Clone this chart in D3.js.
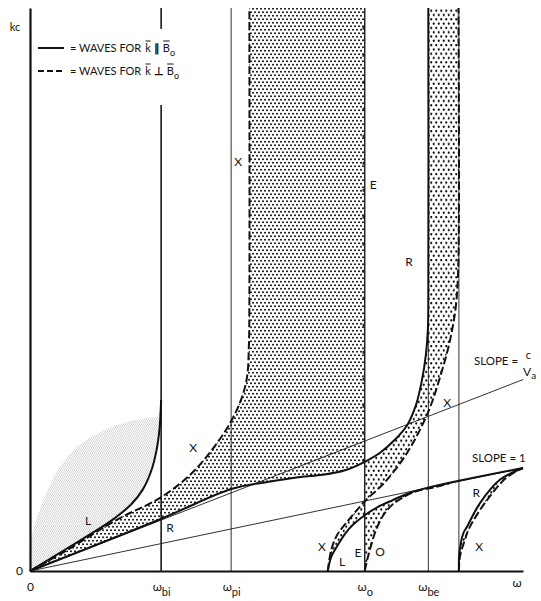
<!DOCTYPE html>
<html>
<head>
<meta charset="utf-8">
<script src="https://cdn.jsdelivr.net/npm/d3@7"></script>
<style>
  body { margin: 0; background: #fff; }
  svg { display: block; }
  text { font-family: Lato, "Noto Sans", sans-serif; fill: #141414; }
</style>
</head>
<body>
<svg id="chart" width="541" height="601"></svg>
<script>
// Dispersion sketch: kc against ω for a cold magnetised plasma (arbitrary units 0–100 on both axes)

// characteristic frequencies
const wBi = 26.6;   // ion cyclotron
const wPi = 40.8;   // ion plasma
const wLH = 44.5;   // lower hybrid asymptote of the X branch
const wL  = 60.4;   // L cutoff
const wO  = 67.9;   // plasma (O) cutoff
const wBe = 80.8;   // electron cyclotron
const wR  = 87.0;   // R cutoff

// axis ticks
const tickValues = [0, wBi, wPi, wO, wBe];
const tickNames  = ["0", "ω", "ω", "ω", "ω"];
const tickSubs   = ["", "bi", "pi", "o", "be"];

// reference lines kc = ω·slope
const lightLine  = [[0, 0], [100, 18.3]];   // slope = 1
const alfvenLine = [[0, 0], [100, 34.0]];   // slope = c / Va

// k ∥ B0 branches (solid)
const ionCyclotronL = [[0,0],[7.5,4.0],[14.2,7.6],[17.2,9.4],[20.5,11.8],[22.9,14.5],[24.6,17.8],[25.7,21.6],[26.3,25.5],[26.6,30.4]];
const whistlerR = [[0,0],[26.4,9.2],[41.0,14.6],[48.1,15.8],[54.8,16.7],[59.4,17.1],[63.9,17.9],[67.9,19.4],[71.0,21.0],[74.0,23.3],[76.5,25.9],[78.3,29.5],[79.5,33.9],[80.3,38.4],[80.7,42.8],[80.8,48.1],[80.8,100]];
const upperL = [[60.4,0],[61.1,2.5],[62.3,4.4],[63.9,6.6],[65.5,8.2],[67.9,9.9],[70.6,11.4],[73.6,12.6],[77.1,13.9],[81.1,14.9],[100,18.3]];
const upperR = [[87.0,0],[87.1,3.2],[87.9,6.7],[88.6,7.8],[91.3,12.1],[95.3,16.2],[100,18.3]];

// k ⊥ B0 branches (dashed)
const lowerX = [[0,0],[7.5,3.7],[17.6,9.1],[26.4,13.0],[32.5,17.1],[36.9,21.5],[40.6,26.3],[42.8,30.4],[44.0,34.3],[44.4,40.1],[44.5,48.1],[44.5,100]];
const middleX = [[60.4,0],[61.1,3.7],[62.3,6.4],[64.3,8.7],[66.9,11.4],[67.9,12.4],[72.0,15.8],[76.5,21.0],[80.7,28.1],[83.2,34.5],[85.2,41.0],[86.4,47.2],[86.9,55.2],[86.9,100]];
const ordinaryO = [[67.9,0],[68.4,2.0],[69.2,4.6],[70.2,7.3],[71.6,9.8],[73.4,11.7],[75.7,13.1],[78.5,14.2],[82.2,14.9],[85.0,15.55]];
const upperX = [[87.0,0],[87.2,2.5],[88.2,5.5],[89.2,7.8],[92.7,12.6],[96.8,16.7],[100,18.3]];

// outline of the faint region above the L branch
const faintEdge = [[0,0],[0,4.6],[1.6,9.9],[4.1,15.3],[7.1,19.7],[11.2,23.1],[16.2,25.4],[21.3,26.8],[26.0,27.4]];

// branch labels: text, ω, kc
const branchLabels = [
  ["X", 42.2, 72.8], ["E", 69.6, 68.6], ["R", 76.9, 54.9],
  ["X", 33.1, 22.0], ["L", 11.8, 9.0],  ["R", 28.4, 7.8],
  ["X", 84.6, 30.0], ["R", 90.5, 13.9], ["X", 91.1, 4.3],
  ["X", 59.2, 4.3],  ["L", 63.3, 1.6],  ["E", 66.5, 3.2], ["O", 71.0, 3.4]
];

const svg = d3.select("#chart");
const x = d3.scaleLinear().domain([0, 100]).range([30, 523]);
const y = d3.scaleLinear().domain([0, 100]).range([571, 8]);
const curve = d3.line().x(d => x(d[0])).y(d => y(d[1])).curve(d3.curveCatmullRom.alpha(0.5));
const straight = d3.line().x(d => x(d[0])).y(d => y(d[1]));

const upTo = (pts, w) => pts.filter(p => p[0] <= w + 1e-9);
const from = (pts, w) => pts.filter(p => p[0] >= w - 1e-9);
const rev = pts => pts.slice().reverse();

// closed outline built from curve pieces (arrays of points) and corner points
function region(parts) {
  let d = "";
  parts.forEach(p => {
    if (typeof p[0] === "number") {
      d += (d ? "L" : "M") + x(p[0]) + "," + y(p[1]);
    } else {
      const s = curve(p);
      d += d ? s.replace(/^M/, "L") : s;
    }
  });
  return d + "Z";
}

// stipple patterns
const defs = svg.append("defs");
function dotPattern(id, w, h, r, color) {
  const p = defs.append("pattern").attr("id", id)
    .attr("patternUnits", "userSpaceOnUse").attr("width", w).attr("height", h);
  p.append("circle").attr("cx", w / 4).attr("cy", h / 4).attr("r", r).attr("fill", color);
  p.append("circle").attr("cx", w * 3 / 4).attr("cy", h * 3 / 4).attr("r", r).attr("fill", color);
}
dotPattern("dotsFine", 4, 7, 0.95, "#000");
dotPattern("dotsCoarse", 5, 8.6, 1.1, "#000");
dotPattern("grain", 2, 3.4, 0.5, "#8e8e8e");

const fills = svg.append("g");
fills.append("path").attr("d", region([faintEdge, rev(ionCyclotronL)])).attr("fill", "url(#grain)");
fills.append("path").attr("d", region([lowerX, [wO, 100], rev(upTo(whistlerR, wO))])).attr("fill", "url(#dotsFine)");
fills.append("path").attr("d", region([from(whistlerR, wO), rev(from(middleX, wO))])).attr("fill", "url(#dotsCoarse)");
fills.append("path").attr("d", region([upTo(middleX, wO), rev(upTo(upperL, wO))])).attr("fill", "url(#dotsCoarse)");
fills.append("path").attr("d", region([upTo(from(upperL, wO), 85), rev(ordinaryO)])).attr("fill", "url(#dotsCoarse)");
fills.append("path").attr("d", region([upperR, rev(upperX)])).attr("fill", "url(#dotsCoarse)");

// vertical guides at the characteristic frequencies
const guides = svg.append("g").attr("stroke", "#1a1a1a").attr("fill", "none");
guides.append("path").attr("d", straight([[wBi, 0], [wBi, 100]])).attr("stroke-width", 1.6);
guides.append("path").attr("d", straight([[wPi, 0], [wPi, 100]])).attr("stroke-width", 0.9);
guides.append("path").attr("d", straight([[wO, 0], [wO, 100]])).attr("stroke-width", 1.4);
guides.append("path").attr("d", straight([[wBe, 0], [wBe, 100]])).attr("stroke-width", 0.9);
guides.append("path").attr("d", straight([[wR, 0], [wR, 100]])).attr("stroke-width", 0.9);
// E branch running up the plasma cutoff
guides.append("path").attr("d", straight([[wO, 19.4], [wO, 100]]))
  .attr("transform", "translate(-1.5,0)").attr("stroke-width", 1.4).attr("stroke-dasharray", "3,24");

// slope reference lines
svg.append("path").attr("d", straight(lightLine)).attr("stroke", "#1a1a1a").attr("stroke-width", 0.9).attr("fill", "none");
svg.append("path").attr("d", straight(alfvenLine)).attr("stroke", "#1a1a1a").attr("stroke-width", 0.9).attr("fill", "none");

// branches
const solid = svg.append("g").attr("fill", "none").attr("stroke", "#111").attr("stroke-width", 2);
[ionCyclotronL, whistlerR, upperL, upperR].forEach(b => solid.append("path").attr("d", curve(b)));
const dashed = svg.append("g").attr("fill", "none").attr("stroke", "#111").attr("stroke-width", 2).attr("stroke-dasharray", "8,3");
[lowerX, middleX, ordinaryO, upperX].forEach(b => dashed.append("path").attr("d", curve(b)));

// axes
const xAxis = svg.append("g").attr("transform", `translate(0,${y(0)})`)
  .call(d3.axisBottom(x).tickValues(tickValues).tickSize(0).tickSizeOuter(0).tickPadding(11));
xAxis.select(".domain").attr("stroke", "#111").attr("stroke-width", 2.2);
xAxis.selectAll(".tick text").each(function(d, i) {
  const t = d3.select(this).text(null).attr("font-size", 12).attr("font-family", "Lato, sans-serif").attr("fill", "#141414");
  t.append("tspan").text(tickNames[i]);
  if (tickSubs[i]) t.append("tspan").attr("dy", 5).attr("font-size", 11).text(tickSubs[i]);
});
svg.append("text").attr("x", x(100) - 6).attr("y", y(0) + 16).attr("text-anchor", "middle")
  .attr("font-size", 12).text("ω");

const yAxis = svg.append("g").attr("transform", `translate(${x(0)},0)`)
  .call(d3.axisLeft(y).tickValues([0]).tickSize(0).tickSizeOuter(0).tickPadding(7));
yAxis.select(".domain").attr("stroke", "#111").attr("stroke-width", 2.2);
yAxis.selectAll(".tick text").attr("font-size", 12).attr("font-family", "Lato, sans-serif").attr("fill", "#141414");
svg.append("text").attr("x", 15).attr("y", 31).attr("text-anchor", "middle").attr("font-size", 11).text("kc");

// legend
const legend = svg.append("g");
legend.append("rect").attr("x", 33).attr("y", 29).attr("width", 152).attr("height", 76).attr("fill", "#fff");
const rows = [["∥", null], ["⊥", "6,3"]];
rows.forEach((r, i) => {
  const cy = 48 + i * 23;
  legend.append("line").attr("x1", 38).attr("x2", 64).attr("y1", cy).attr("y2", cy)
    .attr("stroke", "#111").attr("stroke-width", 2).attr("stroke-dasharray", r[1]);
  let cx = 70;
  const put = (str, opts = {}) => {
    const t = legend.append("text").attr("x", cx).attr("y", cy + 4 + (opts.dy || 0))
      .attr("font-size", opts.size || 11).text(str);
    if (opts.family) t.attr("font-family", opts.family);
    if (opts.weight) t.attr("font-weight", opts.weight);
    const w = t.node().getComputedTextLength();
    if (opts.bar) {
      legend.append("line").attr("x1", cx + 0.3).attr("x2", cx + w - 0.3)
        .attr("y1", cy - 7).attr("y2", cy - 7).attr("stroke", "#141414").attr("stroke-width", 1);
    }
    cx += w + (opts.gap || 0);
    return t;
  };
  put("= WAVES FOR", { gap: 4 });
  put("k", { bar: true, gap: 3 });
  put(r[0], { family: "DejaVu Sans", size: 11, weight: "bold", gap: 3 });
  put("B", { bar: true });
  put("o", { size: 9, dy: 4 });
});

// branch labels
svg.append("g").selectAll("text").data(branchLabels).join("text")
  .attr("x", d => x(d[1])).attr("y", d => y(d[2]))
  .attr("text-anchor", "middle").attr("dominant-baseline", "central")
  .attr("font-size", 12).text(d => d[0]);

// slope annotations
svg.append("text").attr("x", 472).attr("y", 462).attr("font-size", 11.5).text("SLOPE = 1");
svg.append("text").attr("x", 474).attr("y", 365).attr("font-size", 11.5).text("SLOPE =");
svg.append("text").attr("x", 528.5).attr("y", 359).attr("text-anchor", "middle").attr("font-size", 11).text("c");
const va = svg.append("text").attr("x", 523).attr("y", 376).attr("font-size", 12);
va.append("tspan").text("V");
va.append("tspan").attr("dy", 3).attr("font-size", 10).text("a");
</script>
</body>
</html>
